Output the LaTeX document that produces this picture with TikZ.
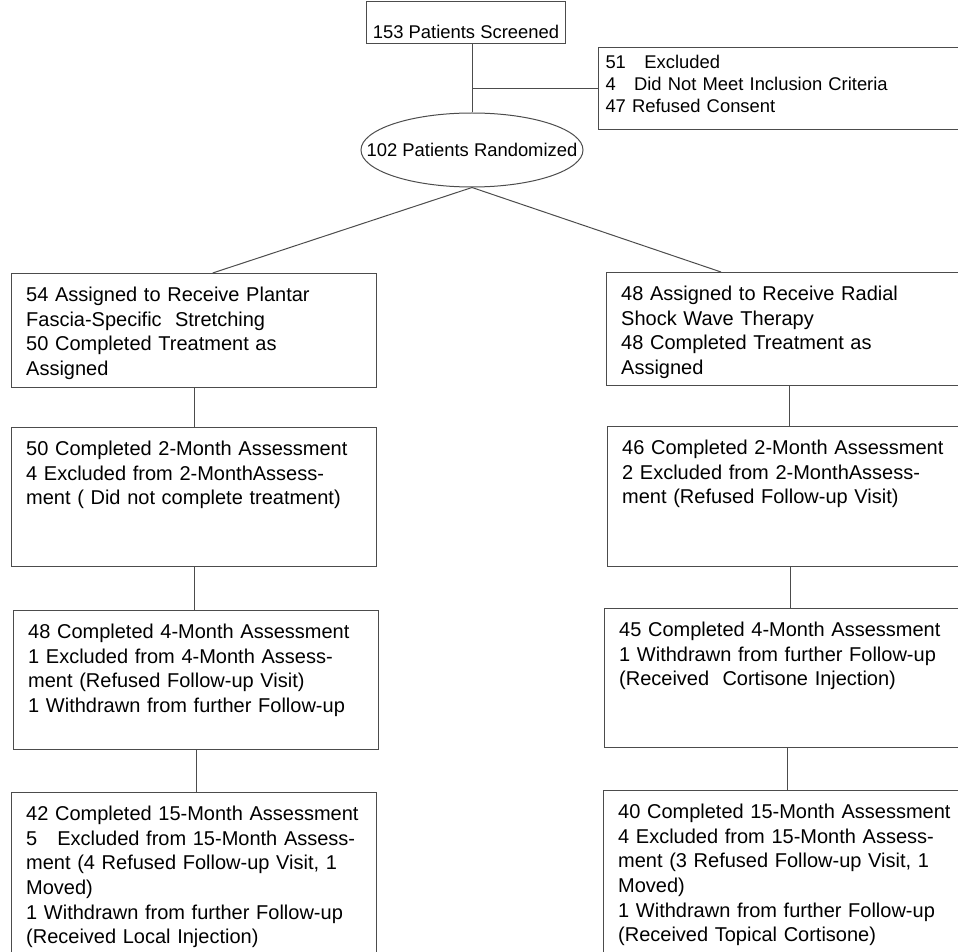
\documentclass[tikz,border=0pt]{standalone}
\usepackage{fontspec}
\setmainfont{Liberation Sans}
\usetikzlibrary{shapes.geometric}

\tikzset{
  flowbox/.style={draw=black!70, line width=0.75pt, anchor=north west, align=left,
    inner xsep=11pt, inner ysep=0pt, text width=251.75pt, text height=21pt,
    font=\fontsize{15}{18.5}\selectfont},
  topfont/.style={font=\fontsize{13.8}{16.5}\selectfont},
  link/.style={draw=black!70, line width=0.75pt}
}

\begin{document}
\begin{tikzpicture}[x=0.75pt,y=0.75pt,yscale=-1,xscale=1]
\useasboundingbox (0,0) rectangle (958,952);

%Screening
\node [draw=black!70, line width=0.75pt, anchor=north west, topfont, minimum width=149.25pt,
  inner ysep=0pt, text height=27.75pt, text depth=3.75pt] (scr) at (366,1) {153 Patients Screened};
% Excluded
\node [draw=black!70, line width=0.75pt, anchor=north west, topfont, align=left, inner xsep=5.25pt,
  inner ysep=0pt, text width=267pt, text height=15.75pt, text depth=45.75pt] (excl) at (598,47)
  {51\ \ \ Excluded\\4\ \ \ Did Not Meet Inclusion Criteria\\47 Refused Consent};
% Randomized
\node [ellipse, draw=black!70, line width=0.75pt, topfont, inner sep=0pt, minimum width=166.5pt,
  minimum height=55.5pt] (rand) at (472,150) {\makebox[0pt]{102 Patients Randomized}};

%Left arm
\node [flowbox, text depth=64.5pt] (l1) at (11,273)
  {54 Assigned to Receive Plantar\\Fascia-Specific\ \ Stretching\\50 Completed Treatment as\\Assigned};
\node [flowbox, text depth=83.25pt] (l2) at (11,427)
  {50 Completed 2-Month Assessment\\4 Excluded from 2-MonthAssess-\\ment ( Did not complete treatment)};
\node [flowbox, text depth=83.25pt] (l3) at (13,610)
  {48 Completed 4-Month Assessment\\1 Excluded from 4-Month Assess-\\ment (Refused Follow-up Visit)\\1 Withdrawn from further Follow-up};
\node [flowbox, text depth=110.25pt] (l4) at (11,792)
  {42 Completed 15-Month Assessment\\5\ \ \ Excluded from 15-Month Assess-\\ment (4 Refused Follow-up Visit, 1\\Moved)\\1 Withdrawn from further Follow-up\\(Received Local Injection)};

%Right arm
\node [flowbox, text depth=63.75pt] (r1) at (606,272)
  {48 Assigned to Receive Radial\\Shock Wave Therapy\\48 Completed Treatment as\\Assigned};
\node [flowbox, text depth=84pt] (r2) at (607,426)
  {46 Completed 2-Month Assessment\\2 Excluded from 2-MonthAssess-\\ment (Refused Follow-up Visit)};
\node [flowbox, text depth=83.25pt] (r3) at (604,608)
  {45 Completed 4-Month Assessment\\1 Withdrawn from further Follow-up\\(Received\ \ Cortisone Injection)};
\node [flowbox, text depth=110.25pt] (r4) at (603,790)
  {40 Completed 15-Month Assessment\\4 Excluded from 15-Month Assess-\\ment (3 Refused Follow-up Visit, 1\\Moved)\\1 Withdrawn from further Follow-up\\(Received Topical Cortisone)};

%Straight Lines
\draw [link] (scr.south -| rand.north) -- (rand.north);
\draw [link] (rand.north |- excl.west) -- (excl.west);
\draw [link] (rand.south) -- ([xshift=14pt]l1.north);
\draw [link] (rand.south) -- ([xshift=-51pt]r1.north);
\draw [link] (l1.south) -- (l1.south |- l2.north);
\draw [link] (l2.south) -- (l2.south |- l3.north);
\draw [link] (l3.south) -- (l3.south |- l4.north);
\draw [link] (r1.south) -- (r1.south |- r2.north);
\draw [link] (r2.south) -- (r2.south |- r3.north);
\draw [link] (r3.south) -- (r3.south |- r4.north);

\end{tikzpicture}
\end{document}
